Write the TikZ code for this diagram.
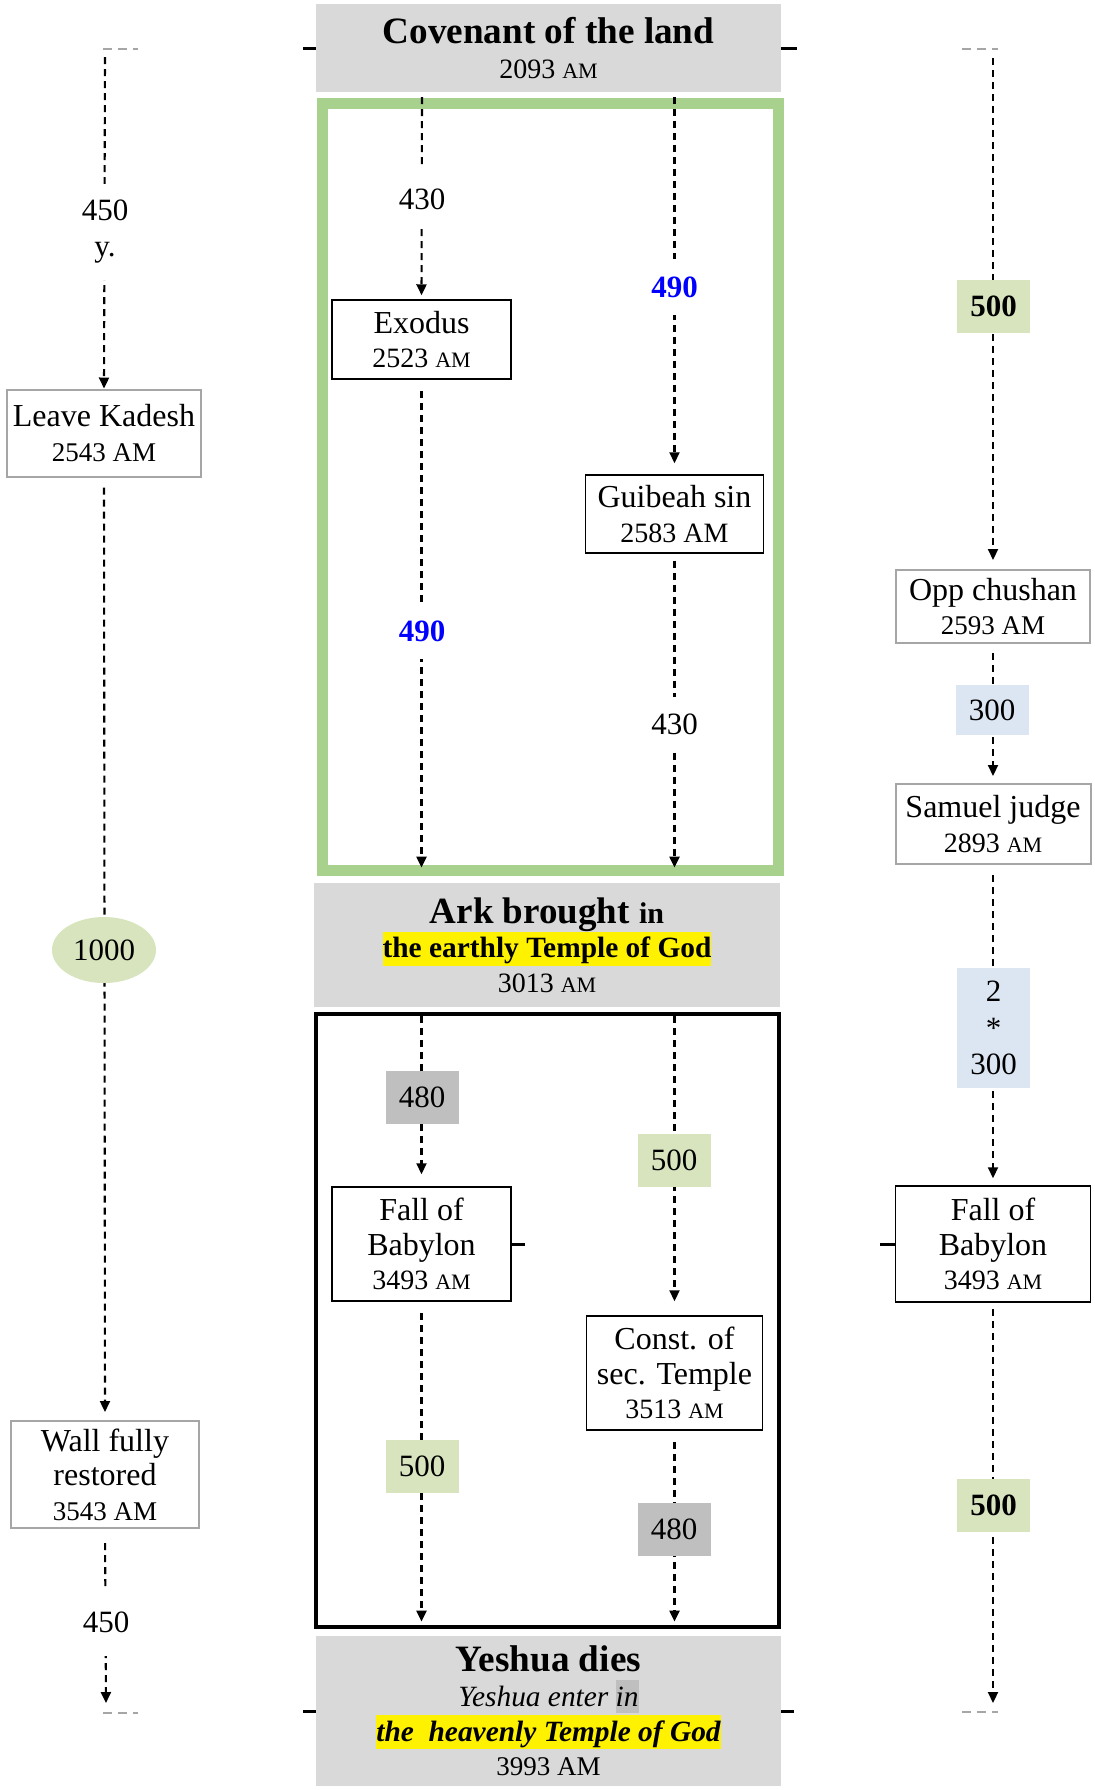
\documentclass[tikz,border=0pt]{standalone}
\usepackage{fontspec}
\setmainfont{Liberation Serif}
\usetikzlibrary{arrows.meta,shapes.geometric,calc}
\definecolor{hdrgray}{HTML}{D9D9D9}
\definecolor{frgreen}{HTML}{A9D18E}
\definecolor{olive}{HTML}{D7E4BD}
\definecolor{ltblue}{HTML}{DCE6F2}
\definecolor{midgray}{HTML}{BFBFBF}
\definecolor{bordgray}{HTML}{A6A6A6}
\definecolor{numblue}{HTML}{0000FF}
\pgfdeclarelayer{back}
\pgfdeclarelayer{links}
\pgfsetlayers{back,links,main}
\newcommand\ftitle{\fontsize{16}{17.3}\selectfont}
\newcommand\fdate{\fontsize{14}{17.3}\selectfont}
\newcommand\fdatec{\fontsize{13.5}{17.3}\selectfont}
\newcommand\flabel{\fontsize{15.5}{17.3}\selectfont}
\newcommand\sam{{\fontsize{11}{11}\selectfont AM}}
\newcommand\hlY[1]{{\setlength\fboxsep{0pt}\colorbox{yellow}{\rule[-4pt]{0pt}{17pt}#1}}}
\newcommand\hlG[1]{{\setlength\fboxsep{0pt}\colorbox{midgray}{\rule[-3.5pt]{0pt}{16.5pt}#1}}}
\begin{document}
\begin{tikzpicture}[x=0.5pt,y=-0.5pt,
  hdr/.style={fill=hdrgray, minimum width=232.5pt, inner sep=0pt, align=center},
  evbox/.style={draw=black, line width=0.75pt, fill=white, inner sep=0pt, align=center, font=\ftitle},
  gevbox/.style={evbox, draw=bordgray, line width=1pt},
  lbl/.style={inner sep=0pt, align=center, font=\flabel},
  mask/.style={lbl, fill=white, minimum width=30pt},
  tagbox/.style={lbl, minimum width=36.5pt, minimum height=26.5pt},
  conn/.style={line width=1.05pt, dash pattern=on 3.5pt off 2.5pt, -{Triangle[width=5pt,length=5.5pt]}},
  blacktick/.style={line width=1.5pt},
  graytick/.style={draw=bordgray, line width=1pt, dash pattern=on 4.5pt off 3pt}
]
\useasboundingbox (0,0) rectangle (1095,1790);
\begin{pgfonlayer}{back}
\fill[white] (0,0) rectangle (1095,1790);
\draw[frgreen, line width=5.5pt] (322,103) rectangle (778,870);
\draw[black, line width=2pt] (316,1014) rectangle (779,1627);
\end{pgfonlayer}

% headers
\node[hdr, minimum height=44pt, font=\fdate] (cov) at (548.5,48)
  {{\fontsize{18.6}{17.3}\selectfont\bfseries Covenant of the land}\\2093 \sam};
\node[hdr, minimum height=62pt, minimum width=233pt, font=\fontsize{14.7}{17.3}\selectfont] (ark) at (547,945)
  {{\fontsize{18.5}{17.3}\selectfont\bfseries Ark brought {\fontsize{15}{17.3}\selectfont in}}\\
   \hlY{\bfseries the earthly Temple of God}\\
   {\fdate 3013 \sam}};
\node[hdr, minimum height=75pt, font=\fontsize{14.7}{17.3}\selectfont] (yeshua) at (548.5,1711)
  {{\fontsize{18.6}{17.3}\selectfont\bfseries Yeshua dies}\\
   {\itshape Yeshua enter \hlG{in}}\\
   \hlY{\bfseries\itshape the\ \ heavenly Temple of God}\\
   {\fdatec 3993 AM}};

% left column
\coordinate (lTop) at (105,57);
\coordinate (lBot) at (106,1703);
\node[gevbox, minimum width=97pt, minimum height=43.5pt] (kadesh) at (104,433)
  {Leave Kadesh\\{\fdatec 2543 AM}};
\node[ellipse, fill=olive, inner sep=0pt, minimum width=52pt, minimum height=33pt, font=\flabel] (e1000) at (104,950) {1000};
\node[gevbox, minimum width=94pt, minimum height=53.5pt] (wall) at (105,1474.5)
  {Wall fully\\restored\\{\fdatec 3543 AM}};
\node[mask, minimum height=48pt, font=\fontsize{15.5}{18}\selectfont] (l450a) at (105,232) {450\\y.};
\node[mask, minimum height=33.5pt] (l450b) at (106,1622) {450};

% middle column, first period
\coordinate (mL) at (422,97);
\coordinate (mR) at (674.5,97);
\node[evbox, minimum width=89.5pt, minimum height=39.5pt] (exodus) at (421.5,339.5)
  {Exodus\\{\fdate 2523 \sam}};
\node[evbox, minimum width=89pt, minimum height=39pt] (guibeah) at (674.5,514)
  {Guibeah sin\\{\fdate 2583 AM}};
\node[mask, minimum height=30pt] (t430a) at (422,199) {430};
\node[mask, minimum height=28pt, text=numblue, font=\flabel\bfseries] (t490a) at (422,631) {490};
\node[mask, minimum height=28pt, text=numblue, font=\flabel\bfseries] (t490b) at (674.5,287) {490};
\node[mask, minimum height=27pt] (t430b) at (674.5,724) {430};

% middle column, second period
\node[evbox, minimum width=89.5pt, minimum height=57pt] (fallL) at (421.5,1244)
  {Fall of\\Babylon\\{\fdate 3493 \sam}};
\node[evbox, minimum width=88pt, minimum height=57pt] (const) at (674.5,1373)
  {Const. of\\sec. Temple\\{\fdate 3513 \sam}};
\node[tagbox, fill=midgray] (t480a) at (422,1097.5) {480};
\node[tagbox, fill=olive] (t500a) at (422,1466.5) {500};
\node[tagbox, fill=olive] (t500b) at (674,1160) {500};
\node[tagbox, fill=midgray] (t480b) at (674,1529.5) {480};

% right column
\coordinate (rTop) at (993,58);
\coordinate (rBot) at (993,1703);
\node[gevbox, minimum width=97pt, minimum height=36.5pt] (opp) at (993,606.5)
  {Opp chushan\\{\fdatec 2593 AM}};
\node[gevbox, minimum width=97.5pt, minimum height=40pt] (samuel) at (993,824)
  {Samuel judge\\{\fdate 2893 \sam}};
\node[evbox, minimum width=97.5pt, minimum height=58pt] (fallR) at (993,1244)
  {Fall of\\Babylon\\{\fdate 3493 \sam}};
\node[tagbox, fill=olive, font=\flabel\bfseries] (t500c) at (993.5,306.5) {500};
\node[tagbox, fill=ltblue, minimum height=25pt] (t300) at (992,710) {300};
\node[tagbox, fill=ltblue, minimum height=60pt, font=\fontsize{15.5}{18.25}\selectfont] (t2x300) at (993.5,1028) {2\\*\\300};
\node[tagbox, fill=olive, font=\flabel\bfseries] (t500d) at (993.5,1505) {500};

% connectors
\begin{pgfonlayer}{links}
\draw[conn] (lTop) -- (kadesh.north);
\draw[conn, shorten <=5pt, shorten >=4pt] (kadesh.south) -- (wall.north);
\draw[conn, shorten <=7pt] (wall.south) -- (lBot);

\draw[conn, shorten >=2pt] (mL) -- (exodus.north);
\draw[conn, shorten <=5.5pt, shorten >=7.5pt] (exodus.south) -- (exodus.south |- ark.north);
\draw[conn, shorten >=5.5pt] (mR) -- (guibeah.north);
\draw[conn, shorten <=3.5pt, shorten >=7.5pt] (guibeah.south) -- (guibeah.south |- ark.north);

\draw[conn, shorten <=4.5pt, shorten >=6pt] (ark.south -| fallL.north) -- (fallL.north);
\draw[conn, shorten <=5.5pt, shorten >=7pt] (fallL.south) -- (fallL.south |- yeshua.north);
\draw[conn, shorten <=4.5pt, shorten >=7pt] (ark.south -| const.north) -- (const.north);
\draw[conn, shorten <=5.5pt, shorten >=7pt] (const.south) -- (const.south |- yeshua.north);

\draw[conn, shorten >=4.5pt] (rTop) -- (opp.north);
\draw[conn, shorten <=4.5pt, shorten >=3.5pt] (opp.south) -- (samuel.north);
\draw[conn, shorten <=5pt, shorten >=3.5pt] (samuel.south) -- (fallR.north);
\draw[conn, shorten <=3pt] (fallR.south) -- (rBot);
\end{pgfonlayer}

% ticks
\draw[blacktick] (cov.west) -- ++(-13,0);
\draw[blacktick] (cov.east) -- ++(16,0);
\draw[blacktick] (yeshua.west) -- ++(-13,0);
\draw[blacktick] (yeshua.east) -- ++(13,0);
\draw[blacktick] (fallL.east) -- ++(13,0);
\draw[blacktick] (fallR.west) -- ++(-15,0);
\draw[graytick] (103,49) -- (138,49);
\draw[graytick] (103,1713) -- (138,1713);
\draw[graytick] (962,49) -- (998,49);
\draw[graytick] (962,1712) -- (998,1712);
\end{tikzpicture}
\end{document}
